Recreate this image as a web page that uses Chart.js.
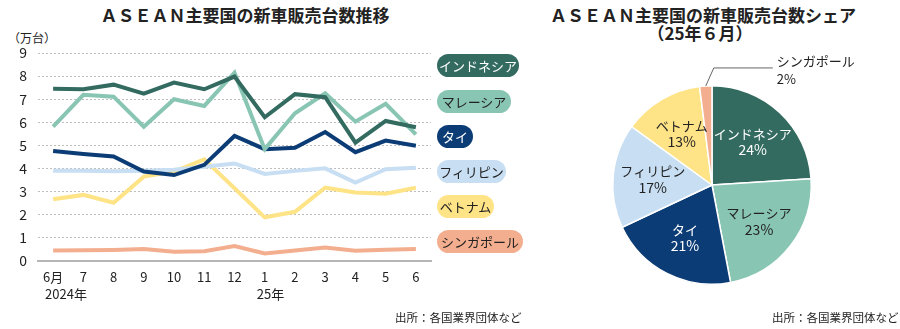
<!DOCTYPE html>
<html>
<head>
<meta charset="utf-8">
<script src="https://cdn.jsdelivr.net/npm/chart.js@4.4.0/dist/chart.umd.min.js"></script>
<style>
  body { margin: 0; background: #fff; font-family: 'Noto Sans CJK JP', sans-serif; color: #222; }
  #wrap { position: relative; width: 900px; height: 329px; overflow: hidden; }
  .abs { position: absolute; white-space: nowrap; }
  .title { font-weight: bold; font-size: 17px; text-align: center; line-height: 18px; }
  .pill { position: absolute; left: 437px; height: 23px; line-height: 23px; border-radius: 12px;
          font-size: 13px; text-align: center; }
  .src { font-size: 11.5px; }
  canvas { position: absolute; }
</style>
</head>
<body>
<div id="wrap">
  <div class="abs title" style="left:0;width:490px;top:6px;">ＡＳＥＡＮ主要国の新車販売台数推移</div>
  <div class="abs" style="left:8px;top:29px;font-size:12px;">（万台）</div>
  <canvas id="line" width="440" height="329" style="left:0;top:0;"></canvas>
  <div id="legend"></div>
  <div class="abs src" style="left:395px;top:309px;">出所：各国業界団体など</div>

  <div class="abs title" style="left:550px;width:300px;top:6px;">ＡＳＥＡＮ主要国の新車販売台数シェア<br>（25年６月）</div>
  <canvas id="pie" width="340" height="280" style="left:560px;top:40px;"></canvas>
  <div class="abs src" style="left:772px;top:309px;">出所：各国業界団体など</div>
</div>
<script>
// --- data ---
const months = ['6月', '7', '8', '9', '10', '11', '12', '1', '2', '3', '4', '5', '6'];
const yearLabels = { 0: '2024年', 7: '25年' };
const countries = ['インドネシア', 'マレーシア', 'タイ', 'フィリピン', 'ベトナム', 'シンガポール'];
const indonesia   = [7.45, 7.43, 7.63, 7.24, 7.72, 7.43, 7.98, 6.22, 7.22, 7.09, 5.12, 6.06, 5.79];
const malaysia    = [5.81, 7.19, 7.11, 5.81, 7.00, 6.71, 8.15, 4.84, 6.39, 7.26, 6.03, 6.80, 5.48];
const thailand    = [4.76, 4.63, 4.52, 3.87, 3.72, 4.16, 5.41, 4.84, 4.90, 5.58, 4.71, 5.21, 4.99];
const philippines = [3.90, 3.90, 3.88, 3.90, 3.95, 4.08, 4.22, 3.77, 3.90, 4.01, 3.39, 3.97, 4.03];
const vietnam     = [2.67, 2.86, 2.52, 3.65, 3.87, 4.40, 3.15, 1.89, 2.13, 3.17, 2.96, 2.91, 3.17];
const singapore   = [0.45, 0.46, 0.48, 0.52, 0.40, 0.42, 0.65, 0.33, 0.45, 0.58, 0.44, 0.49, 0.52];
const yTicks = [0, 1, 2, 3, 4, 5, 6, 7, 8, 9];
const shareJune = [24, 23, 21, 17, 13, 2];

const colors = ['#336b61', '#89c5b3', '#0c3c75', '#c7def3', '#fee387', '#f3ae8f'];
const textOn = ['#fff', '#222', '#fff', '#222', '#222', '#222'];
const series = [indonesia, malaysia, thailand, philippines, vietnam, singapore];

// legend pills
const pillTop = [54, 90, 125, 160, 195, 230];
const pillW = [82, 74, 36, 69, 57, 86];
const legend = document.getElementById('legend');
countries.forEach((c, i) => {
  const d = document.createElement('div');
  d.className = 'pill';
  d.style.top = pillTop[i] + 'px';
  d.style.width = pillW[i] + 'px';
  d.style.background = colors[i];
  d.style.color = textOn[i];
  d.textContent = c;
  legend.appendChild(d);
});

const numFont = "'Liberation Sans Narrow', 'Noto Sans CJK JP', sans-serif";

// year labels under the month ticks
const yearPlugin = {
  id: 'years',
  afterDraw(chart) {
    const ctx = chart.ctx;
    const x = chart.scales.x;
    ctx.save();
    ctx.font = "13px " + numFont;
    ctx.fillStyle = '#222';
    ctx.textAlign = 'left';
    ctx.textBaseline = 'middle';
    Object.keys(yearLabels).forEach(k => {
      ctx.fillText(yearLabels[k], x.getPixelForValue(+k) - 8, 294);
    });
    ctx.restore();
  }
};

new Chart(document.getElementById('line').getContext('2d'), {
  type: 'line',
  data: {
    labels: months,
    datasets: countries.map((c, i) => ({
      label: c,
      data: series[i],
      borderColor: colors[i],
      backgroundColor: colors[i],
      borderWidth: 4,
      pointRadius: 0,
      tension: 0,
      fill: false
    }))
  },
  options: {
    responsive: false,
    animation: false,
    devicePixelRatio: 1,
    layout: { padding: { top: 53, right: 9, bottom: 28, left: 0 } },
    plugins: { legend: { display: false }, tooltip: { enabled: false } },
    scales: {
      x: {
        offset: true,
        afterFit: s => { s.height = 40; },
        grid: { display: false, drawTicks: false },
        border: { display: true, color: '#b5b5b5', width: 2 },
        ticks: { color: '#222', font: { family: numFont, size: 13 }, padding: 8, maxRotation: 0, autoSkip: false }
      },
      y: {
        min: 0, max: 9,
        afterBuildTicks: s => { s.ticks = yTicks.map(v => ({ value: v })); },
        afterFit: s => { s.width = 38; },
        grid: { color: '#bdbdbd', lineWidth: 1, drawTicks: false },
        border: { display: false, dash: [2, 2] },
        ticks: { color: '#222', font: { family: numFont, size: 14 }, padding: 11 }
      }
    }
  },
  plugins: [yearPlugin]
});

// labels on the pie slices
const pieLabels = {
  id: 'pieLabels',
  afterDatasetsDraw(chart) {
    const ctx = chart.ctx;
    const arcs = chart.getDatasetMeta(0).data;
    ctx.save();
    ctx.textAlign = 'center';
    ctx.textBaseline = 'middle';
    arcs.forEach((a, i) => {
      const mid = (a.startAngle + a.endAngle) / 2;
      const name = countries[i];
      const pct = shareJune[i] + '%';
      if (i === 5) {
        const sx = a.x + Math.cos(mid) * a.outerRadius;
        const sy = a.y + Math.sin(mid) * a.outerRadius;
        ctx.strokeStyle = '#666';
        ctx.lineWidth = 1;
        ctx.beginPath();
        ctx.moveTo(sx, sy);
        ctx.lineTo(sx + 8, sy - 18);
        ctx.lineTo(sx + 67, sy - 18);
        ctx.stroke();
        ctx.fillStyle = '#222';
        ctx.textAlign = 'left';
        ctx.font = "13px 'Noto Sans CJK JP', sans-serif";
        ctx.fillText(name, sx + 71, sy - 25);
        ctx.font = "13px " + numFont;
        ctx.fillText(pct, sx + 71, sy - 7);
        return;
      }
      const r = a.outerRadius * 0.6;
      const x = a.x + Math.cos(mid) * r;
      const y = a.y + Math.sin(mid) * r;
      ctx.fillStyle = textOn[i];
      ctx.font = "13px 'Noto Sans CJK JP', sans-serif";
      ctx.fillText(name, x, y - 8);
      ctx.font = "14px " + numFont;
      ctx.fillText(pct, x, y + 8);
    });
    ctx.restore();
  }
};

new Chart(document.getElementById('pie').getContext('2d'), {
  type: 'pie',
  data: {
    labels: countries,
    datasets: [{
      data: shareJune,
      backgroundColor: colors,
      borderColor: '#fff',
      borderWidth: 1.5
    }]
  },
  options: {
    responsive: false,
    animation: false,
    devicePixelRatio: 1,
    layout: { padding: { left: 52, right: 88, top: 45, bottom: 35 } },
    plugins: { legend: { display: false }, tooltip: { enabled: false } }
  },
  plugins: [pieLabels]
});
</script>
</body>
</html>
